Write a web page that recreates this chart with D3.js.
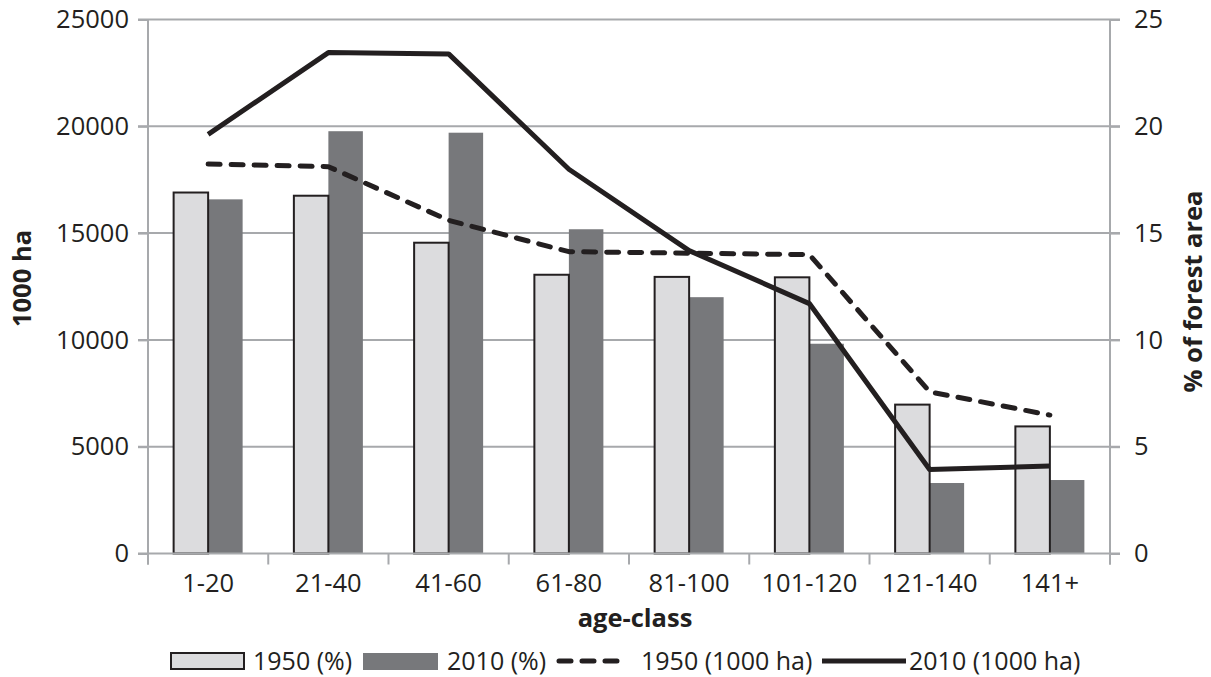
<!DOCTYPE html>
<html><head><meta charset="utf-8">
<script src="https://cdn.jsdelivr.net/npm/d3@7"></script>
<style>
html,body{margin:0;padding:0;background:#fff;}
svg{display:block;font-family:"Open Sans",Lato,sans-serif;}
</style></head>
<body>
<svg id="chart" width="1211" height="677"></svg>
<script>
const categories = ["1-20","21-40","41-60","61-80","81-100","101-120","121-140","141+"];
const pct1950 = [16.9, 16.75, 14.55, 13.05, 12.95, 12.93, 6.97, 5.95];
const pct2010 = [16.58, 19.77, 19.7, 15.18, 12.0, 9.82, 3.3, 3.44];
const ha1950 = [18230, 18110, 15600, 14130, 14060, 13990, 7570, 6480];
const ha2010 = [19620, 23450, 23390, 17990, 14180, 11700, 3930, 4100];
const leftTicks = [0, 5000, 10000, 15000, 20000, 25000];
const rightTicks = [0, 5, 10, 15, 20, 25];
const legendLabels = ["1950 (%)", "2010 (%)", "1950 (1000 ha)", "2010 (1000 ha)"];

const ink = "#231f20", grid = "#a7a9ac";
const FONT = "'Open Sans', Lato, sans-serif";
const FS = "25.5px";
const svg = d3.select("#chart");
const L = 148, R = 1110, T = 19.5, B = 553.5;

const x = d3.scaleBand().domain(categories).range([L, R]).padding(0);
const bw = x.bandwidth();
const x1 = d3.scaleBand().domain(["1950","2010"]).range([bw/2 - 34.5, bw/2 + 34.5]).padding(0);
const yL = d3.scaleLinear().domain([0, 25000]).range([B, T]);
const yR = d3.scaleLinear().domain([0, 25]).range([B, T]);

// gridlines
svg.append("g").selectAll("line").data(leftTicks.filter(d => d > 0)).join("line")
  .attr("x1", L - 10).attr("x2", R + 10)
  .attr("y1", d => yL(d)).attr("y2", d => yL(d))
  .attr("stroke", grid).attr("stroke-width", 2);

// bars
const rows = categories.map((c, i) => ({c, a: pct1950[i], b: pct2010[i]}));
const g = svg.append("g");
g.selectAll("rect.b2010").data(rows).join("rect").attr("class","b2010")
  .attr("x", d => x(d.c) + x1("2010")).attr("width", x1.bandwidth())
  .attr("y", d => yR(d.b)).attr("height", d => B - yR(d.b))
  .attr("fill", "#77787b");
g.selectAll("rect.b1950").data(rows).join("rect").attr("class","b1950")
  .attr("x", d => x(d.c) + x1("1950")).attr("width", x1.bandwidth())
  .attr("y", d => yR(d.a)).attr("height", d => B - yR(d.a))
  .attr("fill", "#dcdcde").attr("stroke", ink).attr("stroke-width", 2);

// axes
const axL = svg.append("g").attr("transform", `translate(${L},0)`)
  .call(d3.axisLeft(yL).tickValues(leftTicks).tickSize(10).tickPadding(9).tickFormat(d3.format("d")));
const axR = svg.append("g").attr("transform", `translate(${R},0)`)
  .call(d3.axisRight(yR).tickValues(rightTicks).tickSize(10).tickPadding(14).tickFormat(d3.format("d")));
const axB = svg.append("g").attr("transform", `translate(0,${B})`)
  .call(d3.axisBottom(x).tickSize(0).tickPadding(20));
// category boundary ticks
svg.append("g").selectAll("line").data(categories.concat(["end"])).join("line")
  .attr("x1", (d,i) => i < categories.length ? x(d) : R)
  .attr("x2", (d,i) => i < categories.length ? x(d) : R)
  .attr("y1", B).attr("y2", B + 11).attr("stroke", grid).attr("stroke-width", 2);

[axL, axR, axB].forEach(a => {
  a.selectAll(".domain").attr("stroke", grid).attr("stroke-width", 2);
  a.selectAll(".tick line").attr("stroke", grid).attr("stroke-width", 2);
  a.selectAll("text").attr("fill", ink).style("font-size", FS).style("font-family", FONT);
});
axL.select(".domain").attr("d", `M0,${T}V${B + 11}`);
axR.select(".domain").attr("d", `M0,${T}V${B + 11}`);
axB.select(".domain").attr("d", `M${L - 10},0H${R + 10}`);

// lines
const line = (arr, scale) => d3.line().x((d, i) => x(categories[i]) + bw/2).y(d => scale(d))(arr);
svg.append("path").attr("d", line(ha1950, yL)).attr("fill", "none")
  .attr("stroke", ink).attr("stroke-width", 5).attr("stroke-dasharray", "12,11")
  .attr("stroke-linecap", "round").attr("stroke-linejoin", "round");
svg.append("path").attr("d", line(ha2010, yL)).attr("fill", "none")
  .attr("stroke", ink).attr("stroke-width", 5)
  .attr("stroke-linejoin", "round");

// axis titles
svg.append("text").attr("x", 635).attr("y", 627).attr("text-anchor", "middle")
  .attr("fill", ink).style("font-size", FS).style("font-weight", "bold").style("font-family", FONT).text("age-class");
svg.append("text").attr("transform", `translate(31,${(T + B) / 2 - 8}) rotate(-90)`).attr("text-anchor", "middle")
  .attr("fill", ink).style("font-size", FS).style("font-weight", "bold").style("font-family", FONT).text("1000 ha");
svg.append("text").attr("transform", `translate(1202,${(T + B) / 2 + 5}) rotate(-90)`).attr("text-anchor", "middle")
  .attr("fill", ink).style("font-size", FS).style("font-weight", "bold").style("font-family", FONT).text("% of forest area");

// legend
const leg = svg.append("g");
const legX = [171, 363, 556, 822];
const ly = 661;
leg.append("rect").attr("x", legX[0]).attr("y", ly - 8).attr("width", 73).attr("height", 16)
  .attr("fill", "#dcdcde").attr("stroke", ink).attr("stroke-width", 2);
leg.append("rect").attr("x", legX[1]).attr("y", ly - 8).attr("width", 75).attr("height", 17)
  .attr("fill", "#77787b");
leg.append("line").attr("x1", legX[2] + 3).attr("x2", legX[2] + 68).attr("y1", ly).attr("y2", ly)
  .attr("stroke", ink).attr("stroke-width", 5).attr("stroke-dasharray", "12,11").attr("stroke-linecap", "round");
leg.append("line").attr("x1", legX[3]).attr("x2", legX[3] + 84).attr("y1", ly).attr("y2", ly)
  .attr("stroke", ink).attr("stroke-width", 5);
const textX = [legX[0] + 82, legX[1] + 84, legX[2] + 85, legX[3] + 87];
leg.selectAll("text").data(legendLabels).join("text")
  .attr("x", (d, i) => textX[i]).attr("y", ly + 9)
  .attr("fill", ink).style("font-size", "25px").style("font-family", FONT).text(d => d);
</script>
</body></html>
